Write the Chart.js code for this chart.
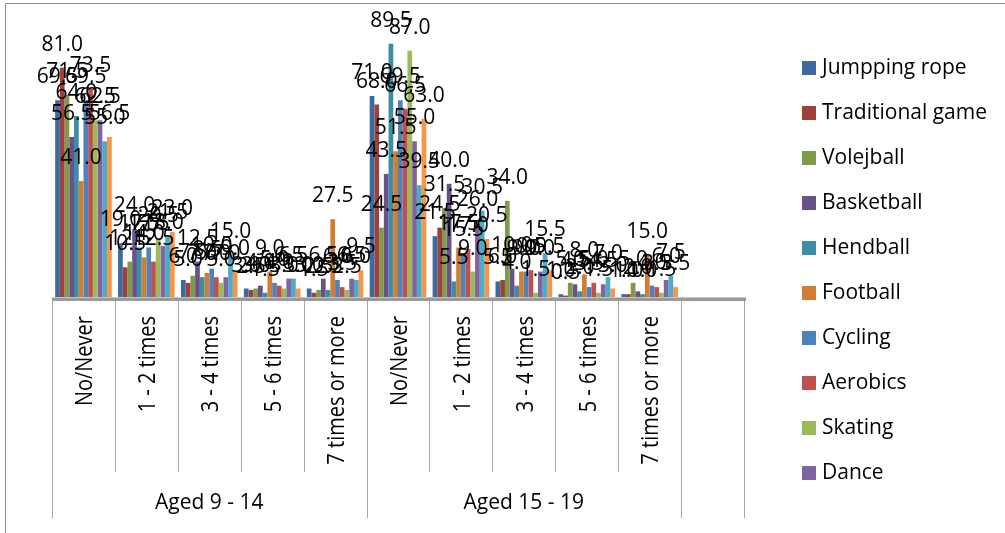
<!DOCTYPE html>
<html>
<head>
<meta charset="utf-8">
<script src="https://cdn.jsdelivr.net/npm/chart.js@4.4.0/dist/chart.umd.min.js"></script>
<style>
  html, body { margin: 0; padding: 0; background: #fff; }
  #wrap { width: 1005px; height: 533px; }
</style>
</head>
<body>
<div id="wrap"><canvas id="sport-chart" width="1005" height="533"></canvas></div>
<script>
// Categories on the x axis (last slot is an empty one, as in the original)
const frequencyLabels = ['No/Never', '1 - 2 times', '3 - 4 times', '5 - 6 times', '7 times or more'];
const ageGroups = ['Aged 9 - 14', 'Aged 15 - 19'];
const categoryLabels = [...frequencyLabels, ...frequencyLabels, ''];

// Series names (legend only shows the first ten)
const seriesNames = ['Jumpping rope', 'Traditional game', 'Volejball', 'Basketball', 'Hendball',
  'Football', 'Cycling', 'Aerobics', 'Skating', 'Dance', 'Series 11', 'Series 12'];

// Values (%) per series: 9-14 (5 categories) then 15-19 (5 categories)
const jumpingRope     = [69.5, 19.0,  6.0, 3.0,  3.0, 71.0, 21.5,  5.5, 1.0,  1.0];
const traditionalGame = [81.0, 10.5,  5.0, 2.5,  1.5, 68.0, 24.5,  6.0, 0.5,  1.0];
const volejball       = [71.5, 12.5,  7.5, 3.0,  2.5, 24.5, 31.5, 34.0, 5.0,  5.0];
const basketball      = [56.5, 24.0, 12.5, 4.0,  6.5, 43.5, 40.0, 10.0, 4.5,  2.0];
const hendball        = [64.0, 17.5,  7.0, 1.5,  2.5, 89.5,  5.5,  4.0, 2.0,  1.0];
const football        = [41.0, 14.0,  8.5, 9.0, 27.5, 51.5, 17.5,  9.0, 8.0, 15.0];
const cycling         = [69.5, 17.5, 10.0, 5.0,  6.0, 69.5, 15.5,  9.0, 3.5,  4.0];
const aerobics        = [73.5, 12.5,  7.0, 4.0,  3.5, 66.5, 17.0,  9.5, 5.0,  3.5];
const skating         = [62.5, 20.5,  5.0, 3.0,  2.5, 87.0,  9.0,  1.5, 1.5,  1.5];
const dance           = [62.5, 18.0,  7.0, 6.5,  6.5, 55.0, 26.0,  9.0, 4.5,  6.0];
const series11        = [55.0, 21.5, 15.0, 6.5,  6.0, 39.5, 30.5, 15.5, 7.0,  7.5];
const series12        = [56.5, 23.0,  9.0, 3.0,  9.5, 63.0, 20.5,  9.5, 3.0,  3.5];

const seriesValues = [jumpingRope, traditionalGame, volejball, basketball, hendball, football,
  cycling, aerobics, skating, dance, series11, series12];

const seriesColors = ['#3c6a9f', '#a0403d', '#7f9a48', '#69528a', '#3c8ea5', '#d07e32',
  '#4f81bd', '#c0504d', '#9bbb59', '#8064a2', '#4bacc6', '#f79646'];

const lineGray = '#a6a6a6';

// Custom drawing: frame, axis band, category boxes, labels, legend
const decorPlugin = {
  id: 'decor',
  beforeDraw(chart) {
    const ctx = chart.ctx;
    ctx.save();
    ctx.fillStyle = '#ffffff';
    ctx.fillRect(0, 0, chart.width, chart.height);
    ctx.strokeStyle = '#8c8c8c';
    ctx.lineWidth = 1;
    ctx.beginPath();
    ctx.moveTo(5.5, chart.height);
    ctx.lineTo(5.5, 3.5);
    ctx.lineTo(chart.width, 3.5);
    ctx.stroke();
    ctx.restore();
  },
  beforeDatasetsDraw(chart) {
    const ctx = chart.ctx;
    const area = chart.chartArea;
    const n = categoryLabels.length;
    const w = (area.right - area.left) / n;
    ctx.save();
    // category box lines
    ctx.strokeStyle = lineGray;
    ctx.lineWidth = 1;
    for (let k = 0; k <= n; k++) {
      const x = Math.round(area.left + k * w) + 0.5;
      const isGroupEdge = (k === 0 || k === 5 || k === 10 || k === 11);
      ctx.beginPath();
      ctx.moveTo(x, area.bottom);
      ctx.lineTo(x, isGroupEdge ? 518 : 472);
      ctx.stroke();
    }
    // axis band
    ctx.fillStyle = '#9a9a9a';
    ctx.fillRect(area.left, area.bottom, area.right - area.left + 2, 4);
    ctx.fillStyle = '#c4c4c4';
    ctx.fillRect(area.left, area.bottom, area.right - area.left + 2, 1);
    ctx.restore();
  },
  afterDatasetsDraw(chart) {
    const ctx = chart.ctx;
    ctx.save();
    ctx.font = '21px "Open Sans"';
    ctx.fillStyle = '#000';
    ctx.textAlign = 'center';
    ctx.textBaseline = 'alphabetic';
    chart.data.datasets.forEach((ds, i) => {
      const meta = chart.getDatasetMeta(i);
      meta.data.forEach((bar, j) => {
        const v = ds.data[j];
        if (v === null || v === undefined) return;
        ctx.fillText(v.toFixed(1), bar.x, bar.y - 17);
      });
    });
    ctx.restore();
  },
  afterDraw(chart) {
    const ctx = chart.ctx;
    const area = chart.chartArea;
    const n = categoryLabels.length;
    const w = (area.right - area.left) / n;
    ctx.save();
    ctx.fillStyle = '#000';
    // rotated category labels
    ctx.font = '20px "Open Sans"';
    categoryLabels.forEach((label, k) => {
      if (!label) return;
      const cx = area.left + (k + 0.5) * w + 2;
      ctx.save();
      ctx.translate(cx, 316);
      ctx.rotate(-Math.PI / 2);
      ctx.scale(1, 1.2);
      ctx.textAlign = 'right';
      ctx.textBaseline = 'middle';
      ctx.fillText(label, 0, 0);
      ctx.restore();
    });
    // age group labels
    ctx.font = '21px "Open Sans"';
    ctx.textAlign = 'center';
    ctx.textBaseline = 'middle';
    ageGroups.forEach((g, i) => {
      const cx = area.left + (i * 5 + 2.5) * w;
      ctx.fillText(g, cx, 503);
    });
    // legend (first ten series)
    ctx.textAlign = 'left';
    for (let i = 0; i < 10; i++) {
      const cy = 68 + i * 45;
      ctx.fillStyle = seriesColors[i];
      ctx.fillRect(802, cy - 7, 14, 14);
      ctx.fillStyle = '#000';
      ctx.fillText(seriesNames[i], 822, cy);
    }
    ctx.restore();
  }
};

const sportChart = document.getElementById('sport-chart');
new Chart(sportChart, {
  type: 'bar',
  data: {
    labels: categoryLabels,
    datasets: seriesValues.map((values, i) => ({
      label: seriesNames[i],
      data: values,
      backgroundColor: seriesColors[i],
      borderWidth: 0,
      categoryPercentage: 0.9,
      barPercentage: 1.0
    }))
  },
  options: {
    responsive: false,
    animation: false,
    devicePixelRatio: 1,
    layout: {
      padding: { left: 52, right: 261, top: 14, bottom: 236 }
    },
    plugins: {
      legend: { display: false },
      tooltip: { enabled: false }
    },
    scales: {
      x: { display: false },
      y: { display: false, min: 0, max: 100 }
    }
  },
  plugins: [decorPlugin]
});
</script>
</body>
</html>
